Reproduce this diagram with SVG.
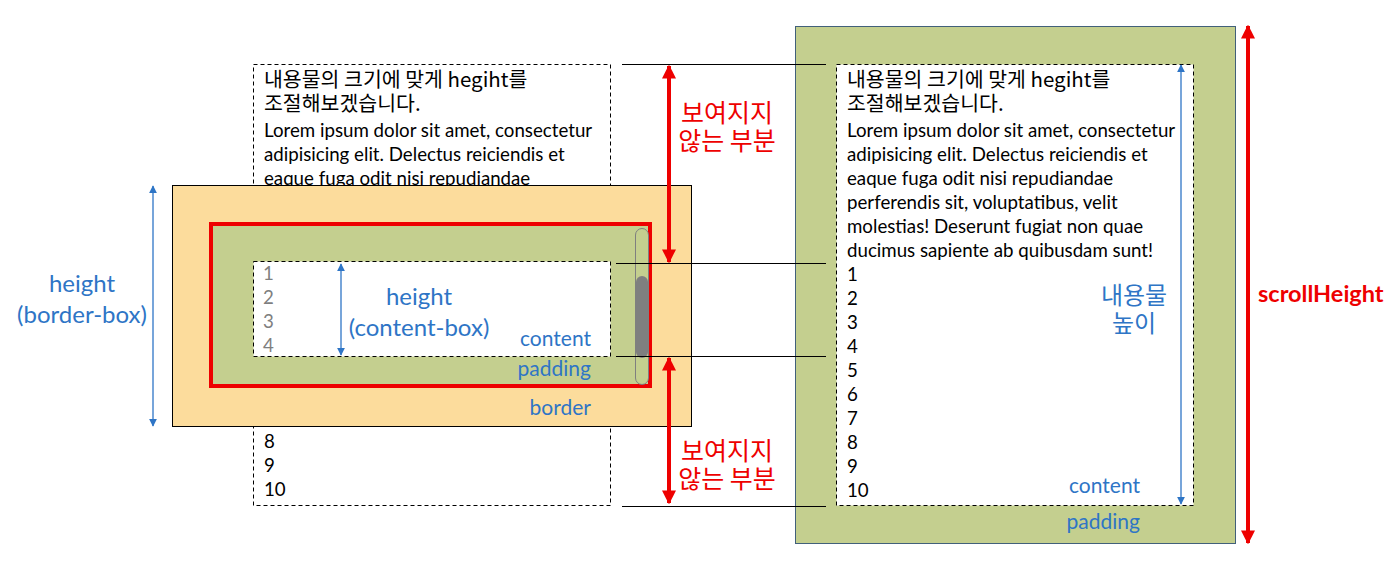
<svg xmlns="http://www.w3.org/2000/svg" width="1399" height="567" viewBox="0 0 1399 567">
<style>
.txt{font-family:"Lato","Noto Sans CJK KR",sans-serif;font-size:18.7px;fill:#000}
.kr{font-family:"Noto Sans CJK KR",sans-serif;font-size:20.5px;fill:#000}
.gray{fill:#7f7f7f}
.blue{font-family:"Lato","Noto Sans CJK KR",sans-serif;font-size:21px;fill:#2e75c6}
.big{font-size:24px}
.red{font-family:"Noto Sans CJK KR",sans-serif;font-size:25px;fill:#ee0000}
.dash{fill:#fff;stroke:#000;stroke-width:1;stroke-dasharray:4 3}
.thin{stroke:#000;stroke-width:1}
.barr{stroke:#2e75c6;stroke-width:1.3}
.rarr{stroke:#ee0000;stroke-width:4}
</style>
<defs>
<marker id="bh" viewBox="0 0 10 10" refX="9" refY="5" markerWidth="8" markerHeight="8" markerUnits="userSpaceOnUse" orient="auto-start-reverse"><path d="M0,0 L10,5 L0,10 z" fill="#2e75c6"/></marker>
<marker id="rh" viewBox="0 0 10 10" refX="9" refY="5" markerWidth="14" markerHeight="14" markerUnits="userSpaceOnUse" orient="auto-start-reverse"><path d="M0,0 L10,5 L0,10 z" fill="#ee0000"/></marker>
</defs>
<rect width="1399" height="567" fill="#fff"/>

<g id="left-scroll-content">
<rect class="dash" x="253.5" y="64.5" width="357" height="441"/>
<text class="kr" x="264" y="87">내용물의 크기에 맞게 hegiht를</text>
<text class="kr" x="264" y="111">조절해보겠습니다.</text>
<text class="txt" x="264" y="137">Lorem ipsum dolor sit amet, consectetur</text>
<text class="txt" x="264" y="161">adipisicing elit. Delectus reiciendis et</text>
<text class="txt" x="264" y="185">eaque fuga odit nisi repudiandae</text>
<text class="txt" x="264" y="448">8</text>
<text class="txt" x="264" y="472">9</text>
<text class="txt" x="264" y="496">10</text>
</g>

<g id="border-box">
<rect x="172.5" y="185.5" width="519" height="241" fill="#fcdc9c" stroke="#000" stroke-width="1"/>
<rect x="211" y="224" width="439" height="162" fill="#c4cf8f" stroke="#ee0000" stroke-width="4"/>
<rect class="dash" x="253.5" y="261.5" width="357" height="95"/>
<text class="txt gray" x="263" y="280">1</text>
<text class="txt gray" x="263" y="304">2</text>
<text class="txt gray" x="263" y="328">3</text>
<text class="txt gray" x="263" y="352">4</text>
<rect x="635.5" y="228.5" width="13" height="156" rx="6.5" fill="none" stroke="#7f7f7f" stroke-width="1"/>
<rect x="636" y="276" width="12" height="82" rx="6" fill="#7f7f7f"/>
<text class="blue big" x="419" y="305" text-anchor="middle">height</text>
<text class="blue big" x="419" y="336" text-anchor="middle">(content-box)</text>
<text class="blue" x="591" y="346" text-anchor="end">content</text>
<text class="blue" x="591" y="376" text-anchor="end">padding</text>
<text class="blue" x="591" y="415" text-anchor="end">border</text>
</g>

<g id="label-left-height">
<text class="blue big" x="82" y="292" text-anchor="middle">height</text>
<text class="blue big" x="82" y="323" text-anchor="middle">(border-box)</text>
</g>

<g id="label-hidden-top">
<text class="red" x="727" y="122" text-anchor="middle">보여지지</text>
<text class="red" x="727" y="150" text-anchor="middle">않는 부분</text>
</g>
<g id="label-hidden-bottom">
<text class="red" x="727" y="460" text-anchor="middle">보여지지</text>
<text class="red" x="727" y="488" text-anchor="middle">않는 부분</text>
</g>

<g id="right-box">
<rect x="795.5" y="26.5" width="440" height="517" fill="#c4cf8f" stroke="#41607a" stroke-width="1"/>
<rect class="dash" x="836.5" y="64.5" width="357" height="441"/>
<text class="kr" x="847" y="87">내용물의 크기에 맞게 hegiht를</text>
<text class="kr" x="847" y="111">조절해보겠습니다.</text>
<text class="txt" x="847" y="137">Lorem ipsum dolor sit amet, consectetur</text>
<text class="txt" x="847" y="161">adipisicing elit. Delectus reiciendis et</text>
<text class="txt" x="847" y="185">eaque fuga odit nisi repudiandae</text>
<text class="txt" x="847" y="209">perferendis sit, voluptatibus, velit</text>
<text class="txt" x="847" y="233">molestias! Deserunt fugiat non quae</text>
<text class="txt" x="847" y="257">ducimus sapiente ab quibusdam sunt!</text>
<text class="txt" x="847" y="281">1</text>
<text class="txt" x="847" y="305">2</text>
<text class="txt" x="847" y="329">3</text>
<text class="txt" x="847" y="353">4</text>
<text class="txt" x="847" y="377">5</text>
<text class="txt" x="847" y="401">6</text>
<text class="txt" x="847" y="425">7</text>
<text class="txt" x="847" y="449">8</text>
<text class="txt" x="847" y="473">9</text>
<text class="txt" x="847" y="497">10</text>
<text class="blue big" x="1134" y="304" text-anchor="middle">내용물</text>
<text class="blue big" x="1134" y="332" text-anchor="middle">높이</text>
<text class="blue" x="1140" y="493" text-anchor="end">content</text>
<text class="blue" x="1140" y="529" text-anchor="end">padding</text>
</g>

<g id="label-scrollheight">
<text x="1258" y="302" style="font-family:Lato,'Liberation Sans',sans-serif;font-weight:bold;font-size:23.5px;fill:#ee0000">scrollHeight</text>
</g>

<g id="connectors">
<line class="thin" x1="622" y1="64.5" x2="826" y2="64.5"/>
<line class="thin" x1="616" y1="263.5" x2="826" y2="263.5"/>
<line class="thin" x1="616" y1="356.5" x2="826" y2="356.5"/>
<line class="thin" x1="622" y1="506.5" x2="826" y2="506.5"/>
<line class="barr" x1="153" y1="186" x2="153" y2="426" marker-start="url(#bh)" marker-end="url(#bh)"/>
<line class="barr" x1="341" y1="264" x2="341" y2="355" marker-start="url(#bh)" marker-end="url(#bh)"/>
<line class="barr" x1="1181" y1="65" x2="1181" y2="504" marker-start="url(#bh)" marker-end="url(#bh)"/>
<line class="rarr" x1="669" y1="66" x2="669" y2="262" marker-start="url(#rh)" marker-end="url(#rh)"/>
<line class="rarr" x1="669" y1="358" x2="669" y2="503" marker-start="url(#rh)" marker-end="url(#rh)"/>
<line class="rarr" x1="1248" y1="26" x2="1248" y2="543" marker-start="url(#rh)" marker-end="url(#rh)"/>
</g>
</svg>
